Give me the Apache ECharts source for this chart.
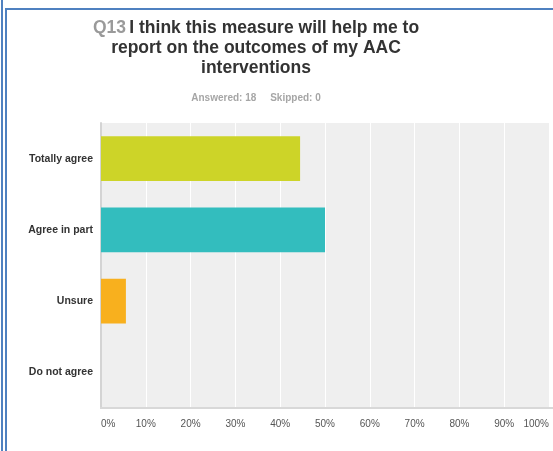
<!DOCTYPE html>
<html>
<head>
<meta charset="utf-8">
<script src="https://cdn.jsdelivr.net/npm/echarts@6/dist/echarts.min.js"></script>
<style>
  html, body { margin: 0; padding: 0; background: #fff; }
  #chart { width: 553px; height: 451px; }
</style>
</head>
<body>
<div id="chart"></div>
<script>
// Survey responses for Q13 (Answered: 18, Skipped: 0)
const categories = ['Totally agree', 'Agree in part', 'Unsure', 'Do not agree'];
const percentages = [44.44, 50.00, 5.56, 0];
const barColors = ['#cdd428', '#33bdbe', '#f8b01e', '#8e8e8e'];
const xTicks = [0, 10, 20, 30, 40, 50, 60, 70, 80, 90, 100];

const FONT = 'Liberation Sans, Arial, sans-serif';
const chart = echarts.init(document.getElementById('chart'), null, { renderer: 'canvas' });

chart.setOption({
  animation: false,
  backgroundColor: '#ffffff',
  textStyle: { fontFamily: FONT },
  grid: { left: 101, right: 4, top: 123, bottom: 43, show: true, backgroundColor: '#efefef', borderWidth: 0 },
  xAxis: {
    type: 'value',
    min: xTicks[0],
    max: xTicks[xTicks.length - 1],
    interval: 10,
    axisLine: { show: false },
    axisTick: { show: false },
    splitLine: { show: true, lineStyle: { color: '#ffffff', width: 1 } },
    axisLabel: {
      formatter: '{value}%',
      color: '#555555',
      fontSize: 10,
      margin: 11,
      alignMinLabel: 'left',
      alignMaxLabel: 'right'
    }
  },
  yAxis: {
    type: 'category',
    data: categories,
    inverse: true,
    axisLine: { show: true, lineStyle: { color: '#d4d4d4', width: 2 } },
    axisTick: { show: false },
    splitLine: { show: false },
    axisLabel: { color: '#333333', fontSize: 10.5, fontWeight: 'bold', margin: 8 }
  },
  series: [{
    type: 'bar',
    data: percentages.map((v, i) => ({ value: v, itemStyle: { color: barColors[i] } })),
    barCategoryGap: '37.5%',
    silent: true
  }],
  graphic: [
    // bottom edge of the plot
    { type: 'rect', shape: { x: 100, y: 407, width: 453, height: 2 }, style: { fill: '#d8d8d8' }, z: 10 },
    // page frame
    { type: 'rect', shape: { x: 1, y: 0, width: 2, height: 451 }, style: { fill: '#4f81c0' }, z: 20 },
    { type: 'rect', shape: { x: 5, y: 8, width: 2, height: 443 }, style: { fill: '#4f81c0' }, z: 20 },
    { type: 'rect', shape: { x: 5, y: 8, width: 548, height: 2 }, style: { fill: '#4f81c0' }, z: 20 },
    // heading
    {
      type: 'text',
      x: 256, y: 18,
      style: {
        text: '{q|Q13} {b|I think this measure will help me to}\n{b|report on the outcomes of my AAC}\n{b|interventions}',
        align: 'center',
        verticalAlign: 'top',
        rich: {
          q: { fontSize: 17.5, fontWeight: 'bold', fill: '#9a9a9a', fontFamily: FONT, lineHeight: 20 },
          b: { fontSize: 17.5, fontWeight: 'bold', fill: '#333333', fontFamily: FONT, lineHeight: 20 }
        }
      }
    },
    {
      type: 'text',
      x: 256, y: 93,
      style: {
        text: 'Answered: 18     Skipped: 0',
        align: 'center',
        verticalAlign: 'top',
        fontSize: 10,
        fontWeight: 'bold',
        fill: '#a6a6a6',
        fontFamily: FONT
      }
    }
  ]
});
</script>
</body>
</html>
